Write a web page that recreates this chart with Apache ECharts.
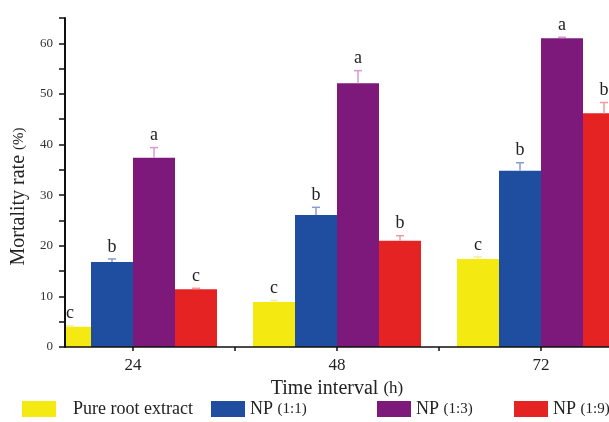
<!DOCTYPE html>
<html>
<head>
<meta charset="UTF-8">
<title>Mortality rate</title>
<script src="https://cdn.jsdelivr.net/npm/echarts@6/dist/echarts.min.js"></script>
<style>
    html, body { margin: 0; padding: 0; background: #fff; }
    #chart { width: 609px; height: 422px; }
</style>
</head>
<body>
<div id="chart"></div>
<script type="text/javascript">
// data
var hours = [24, 48, 72];
var seriesNames = ['Pure root extract', 'NP (1:1)', 'NP (1:3)', 'NP (1:9)'];
var pureRoot = [4.0, 8.9, 17.4];
var np11 = [16.8, 26.1, 34.8];
var np13 = [37.4, 52.1, 61.0];
var np19 = [11.4, 21.0, 46.2];
var pureRootErr = [0.2, 0.3, 0.4];
var np11Err = [0.6, 1.5, 1.6];
var np13Err = [2.0, 2.5, 0.2];
var np19Err = [0.2, 1.0, 2.1];
var pureRootSig = ['c', 'c', 'c'];
var np11Sig = ['b', 'b', 'b'];
var np13Sig = ['a', 'a', 'a'];
var np19Sig = ['c', 'b', 'b'];
var xTicks = [24, 36, 48, 60, 72];
var xLabels = [24, 48, 72];
var yTicks = [0, 5, 10, 15, 20, 25, 30, 35, 40, 45, 50, 55, 60, 65];
var yLabels = [0, 10, 20, 30, 40, 50, 60];

var values = [pureRoot, np11, np13, np19];
var errors = [pureRootErr, np11Err, np13Err, np19Err];
var letters = [pureRootSig, np11Sig, np13Sig, np19Sig];
var colors = ['#f4ea12', '#1f4d9f', '#7d197b', '#e52323'];
var errColors = ['#f7ef9a', '#8a9ad4', '#d69ad6', '#f39a9a'];
var BAR_W = 42;
var FONT = '"Liberation Serif", "DejaVu Serif", serif';

var chart = echarts.init(document.getElementById('chart'));

// bars: custom series so the first bar is clipped by the y axis like the original
var series = [];
values.forEach(function (vals, k) {
    series.push({
        name: seriesNames[k],
        type: 'custom',
        clip: true,
        itemStyle: { color: colors[k] },
        data: hours.map(function (h, i) { return [h, vals[i]]; }),
        renderItem: function (params, api) {
            var top = api.coord([api.value(0), api.value(1)]);
            var base = api.coord([api.value(0), 0]);
            return {
                type: 'rect',
                shape: { x: top[0] + (k - 2) * BAR_W, y: top[1], width: BAR_W, height: base[1] - top[1] },
                style: { fill: colors[k] }
            };
        }
    });
});
// error whiskers + significance letters
values.forEach(function (vals, k) {
    series.push({
        type: 'custom',
        z: 5,
        clip: false,
        data: hours.map(function (h, i) { return [h, vals[i], errors[k][i]]; }),
        renderItem: function (params, api) {
            var x = api.value(0), v = api.value(1), e = api.value(2);
            var top = api.coord([x, v + e]);
            var base = api.coord([x, v]);
            var cx = top[0] + (k - 1.5) * BAR_W;
            return {
                type: 'group',
                children: [
                    { type: 'line', shape: { x1: cx, y1: base[1], x2: cx, y2: top[1] },
                      style: { stroke: errColors[k], lineWidth: 1.5 } },
                    { type: 'line', shape: { x1: cx - 4, y1: top[1], x2: cx + 4, y2: top[1] },
                      style: { stroke: errColors[k], lineWidth: 1.5 } },
                    { type: 'text', style: { text: letters[k][params.dataIndex], x: cx, y: top[1] - 3,
                      align: 'center', verticalAlign: 'bottom', fill: '#222', font: '18px ' + FONT } }
                ]
            };
        }
    });
});

var legendPos = [22, 211, 377, 514];
var legends = seriesNames.map(function (n, k) {
    return {
        data: [n],
        left: legendPos[k],
        top: 400,
        padding: 0,
        icon: 'rect',
        itemWidth: 34,
        itemHeight: 16,
        selectedMode: false,
        formatter: function (name) { return name.replace(/\((.*)\)/, '{s|($1)}'); },
        textStyle: {
            fontFamily: FONT, fontSize: 18, color: '#222',
            padding: k === 0 ? [0, 0, 0, 12] : 0,
            rich: { s: { fontFamily: FONT, fontSize: 15, color: '#222' } }
        }
    };
});

var option = {
    animation: false,
    grid: { left: 65, right: 0, top: 18, bottom: 75, outerBoundsMode: 'none' },
    legend: legends,
    xAxis: {
        type: 'value',
        min: 16,
        max: 80,
        z: 3,
        name: 'Time interval {s|(h)}',
        nameLocation: 'middle',
        nameGap: 30,
        nameTextStyle: { fontFamily: FONT, fontSize: 20, color: '#222',
            rich: { s: { fontFamily: FONT, fontSize: 17, color: '#222' } } },
        splitLine: { show: false },
        axisLine: { lineStyle: { color: '#111', width: 1.5 } },
        axisTick: { customValues: xTicks, length: 4, lineStyle: { color: '#111', width: 1.5 } },
        axisLabel: { customValues: xLabels, margin: 10, fontFamily: FONT, fontSize: 17, color: '#222' }
    },
    yAxis: {
        type: 'value',
        min: 0,
        max: 65,
        z: 3,
        name: 'Mortality rate {s|(%)}',
        nameLocation: 'middle',
        nameGap: 36,
        nameTextStyle: { fontFamily: FONT, fontSize: 20, color: '#222', padding: [0, 28, 0, 0],
            rich: { s: { fontFamily: FONT, fontSize: 15, color: '#222' } } },
        splitLine: { show: false },
        axisLine: { show: true, lineStyle: { color: '#111', width: 2 } },
        axisTick: { customValues: yTicks, length: 6, lineStyle: { color: '#111', width: 1.5 } },
        axisLabel: { customValues: yLabels, margin: 12, fontFamily: FONT, fontSize: 13, color: '#333' }
    },
    series: series
};

chart.setOption(option);
</script>
</body>
</html>
